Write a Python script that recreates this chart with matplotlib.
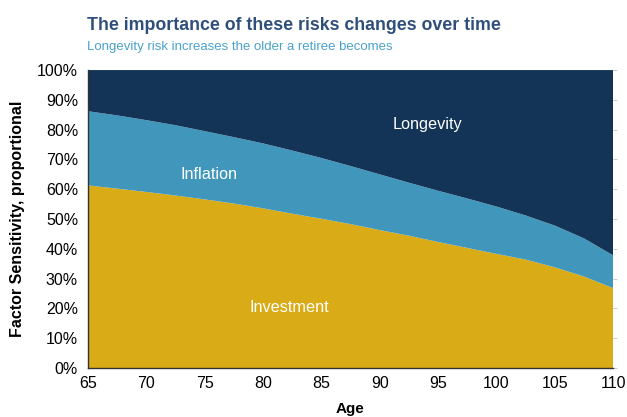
import numpy as np
import matplotlib.pyplot as plt

plt.rcParams['font.family'] = ['Liberation Sans', 'DejaVu Sans']

# ages and factor shares (%)
ages = [65, 67.5, 70, 72.5, 75, 77.5, 80, 82.5, 85, 87.5, 90,
        92.5, 95, 97.5, 100, 102.5, 105, 107.5, 110]
investment = [61.3, 60.2, 59.1, 57.9, 56.6, 55.2, 53.6, 51.8, 50.1, 48.3, 46.3,
              44.4, 42.3, 40.3, 38.3, 36.4, 33.8, 30.7, 26.8]
inflation = [24.9, 24.6, 24.1, 23.6, 22.9, 22.3, 21.8, 21.2, 20.4, 19.5, 18.7,
             17.8, 17.2, 16.6, 15.9, 14.8, 14.0, 12.8, 11.0]
longevity = [13.8, 15.2, 16.8, 18.5, 20.5, 22.5, 24.6, 27.0, 29.5, 32.2, 35.0,
             37.8, 40.5, 43.1, 45.8, 48.8, 52.2, 56.5, 62.2]

colors = ['#D9AB17', '#4197BB', '#133456']

fig = plt.figure(figsize=(6.27, 4.17), dpi=100)
ax = fig.add_axes([0.140, 0.1175, 0.838, 0.7145])

ax.stackplot(ages, np.array(investment) / 100, np.array(inflation) / 100,
             np.array(longevity) / 100, colors=colors, linewidth=0)

ax.set_xlim(65, 110)
ax.set_ylim(0, 1)
ax.set_xticks(range(65, 111, 5))
yt = np.arange(0, 1.01, 0.1)
ax.set_yticks(yt)
ax.set_yticklabels([f"{int(round(v * 100))}%" for v in yt])
ax.tick_params(labelsize=11.5)
ax.tick_params(axis='x', length=0, pad=6)
ax.tick_params(axis='y', left=False, right=True, length=3, color='#cccccc', pad=4)
for s in ['top', 'right']:
    ax.spines[s].set_visible(False)
for s in ['left', 'bottom']:
    ax.spines[s].set_color('#333333')
    ax.spines[s].set_linewidth(1.0)

ax.set_ylabel("Factor Sensitivity, proportional", fontsize=11.5, fontweight='bold', labelpad=9)
ax.set_xlabel("Age", fontsize=11, fontweight='bold', labelpad=8)

ax.text(75.4, 0.648, "Inflation", color='white', fontsize=11.7, ha='center', va='center')
ax.text(82.3, 0.203, "Investment", color='white', fontsize=11.7, ha='center', va='center')
ax.text(94.1, 0.818, "Longevity", color='white', fontsize=11.7, ha='center', va='center')

fig.text(0.139, 0.927, "The importance of these risks changes over time",
         fontsize=12.8, fontweight='bold', color='#2E4F7C', ha='left', va='baseline')
fig.text(0.139, 0.881, "Longevity risk increases the older a retiree becomes",
         fontsize=9.5, color='#4AA2CB', ha='left', va='baseline')

fig.savefig('out.png', dpi=100)
